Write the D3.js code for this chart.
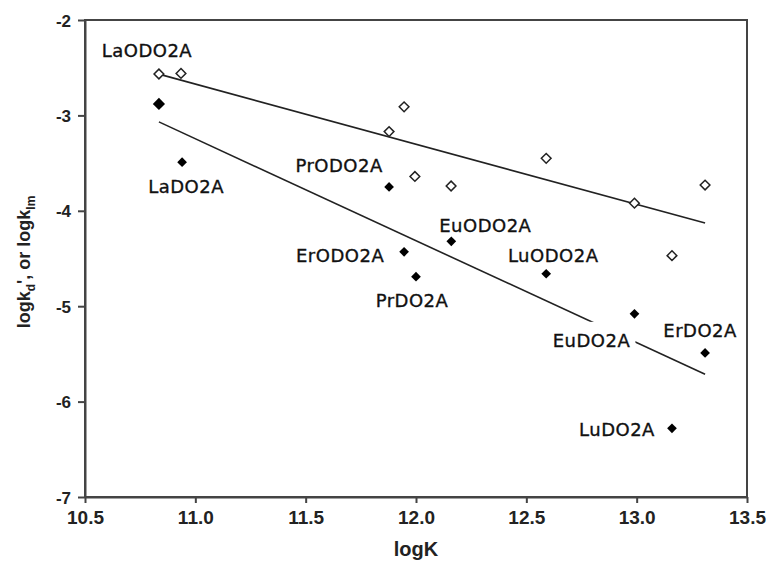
<!DOCTYPE html>
<html>
<head>
<meta charset="utf-8">
<script src="https://cdn.jsdelivr.net/npm/d3@7"></script>
<style>
  body { margin: 0; background: #fff; }
  svg { display: block; }
</style>
</head>
<body>
<svg id="chart"></svg>
<script>
// logK values and rate constants
var openX  = [10.835, 10.935, 11.946, 11.878, 11.995, 12.159, 12.59, 12.99, 13.31, 13.16];
var openY  = [-2.566, -2.56, -2.91, -3.17, -3.64, -3.74, -3.45, -3.92, -3.73, -4.47];
var fillX  = [10.835, 10.94, 11.878, 12.16, 11.946, 12.0, 12.59, 12.99, 13.31, 13.16];
var fillY  = [-2.88, -3.49, -3.75, -4.32, -4.43, -4.69, -4.66, -5.08, -5.49, -6.28];
var fillNames = ["LaODO2A", "LaDO2A", "PrODO2A", "EuODO2A", "ErODO2A", "PrDO2A", "LuODO2A", "EuDO2A", "ErDO2A", "LuDO2A"];
var xTicks = [10.5, 11.0, 11.5, 12.0, 12.5, 13.0, 13.5];
var yTicks = [-2, -3, -4, -5, -6, -7];

// label placement (pixels from the point: centre x, baseline y)
var labelOffsets = [[-12, -47], [4, 31], [-50, -15], [34, -9], [-64, 10], [-4, 30], [7, -12], [-43, 33], [-5, -16], [-55, 8]];

var width = 766, height = 562;
var margin = {left: 85, top: 20, right: 19, bottom: 65};
var w = width - margin.left - margin.right,
    h = height - margin.top - margin.bottom;

var svg = d3.select("#chart").attr("width", width).attr("height", height);
var g = svg.append("g").attr("transform", "translate(" + margin.left + "," + margin.top + ")");

var x = d3.scaleLinear().domain([10.5, 13.5]).range([0, w]);
var y = d3.scaleLinear().domain([-7, -2]).range([h, 0]);

// least squares line through a series
function fit(xs, ys){
    var mx = d3.mean(xs), my = d3.mean(ys);
    var sxy = 0, sxx = 0;
    xs.forEach(function(v, i){
        sxy += (v - mx) * (ys[i] - my);
        sxx += (v - mx) * (v - mx);
    });
    var b = sxy / sxx, a = my - b * mx;
    var x0 = d3.min(xs), x1 = d3.max(xs);
    return [[x0, a + b * x0], [x1, a + b * x1]];
}

var line = d3.line().x(function(d){ return x(d[0]); }).y(function(d){ return y(d[1]); });

[fit(openX, openY), fit(fillX, fillY)].forEach(function(seg){
    g.append("path")
        .attr("d", line(seg))
        .attr("fill", "none")
        .attr("stroke", "#222")
        .attr("stroke-width", 1.6);
});

// frame
g.append("rect")
    .attr("width", w).attr("height", h)
    .attr("fill", "none")
    .attr("stroke", "#444")
    .attr("stroke-width", 2);

// axes
var xAxis = g.append("g")
    .attr("transform", "translate(0," + h + ")")
    .call(d3.axisBottom(x).tickValues(xTicks).tickFormat(d3.format(".1f")).tickSize(6).tickSizeOuter(0));
var yAxis = g.append("g")
    .call(d3.axisLeft(y).tickValues(yTicks).tickFormat(function(d){ return String(d); }).tickSize(7).tickSizeOuter(0));

[xAxis, yAxis].forEach(function(ax){
    ax.select(".domain").attr("stroke", "#444").attr("stroke-width", 2);
    ax.selectAll(".tick line").attr("stroke", "#444").attr("stroke-width", 2);
    ax.selectAll(".tick text")
        .attr("fill", "#222")
        .style("font-family", "'Liberation Sans', Arial, sans-serif")
        .style("font-weight", "bold");
});
xAxis.selectAll(".tick text").style("font-size", "19px").attr("dy", "0.95em").attr("y", 9);
yAxis.selectAll(".tick text").style("font-size", "17px").attr("x", -14).attr("dy", "0.36em");

// axis titles
svg.append("text")
    .attr("x", 416).attr("y", 556)
    .attr("text-anchor", "middle")
    .style("font-family", "'Liberation Sans', Arial, sans-serif")
    .style("font-weight", "bold")
    .style("font-size", "20px")
    .attr("fill", "#222")
    .text("logK");

var yt = svg.append("text")
    .attr("transform", "translate(30,262) rotate(-90)")
    .attr("text-anchor", "middle")
    .style("font-family", "'Liberation Sans', Arial, sans-serif")
    .style("font-weight", "bold")
    .style("font-size", "18px")
    .attr("fill", "#222");
yt.append("tspan").text("logk");
yt.append("tspan").attr("dy", 5).style("font-size", "12px").text("d");
yt.append("tspan").attr("dy", -5).text("', or logk");
yt.append("tspan").attr("dy", 5).style("font-size", "12px").text("lm");

// labels for the filled series
var labels = g.selectAll(".lbl")
    .data(fillNames)
    .enter().append("g")
    .attr("class", "lbl")
    .attr("transform", function(d, i){
        return "translate(" + (x(fillX[i]) + labelOffsets[i][0]) + "," + (y(fillY[i]) + labelOffsets[i][1]) + ")";
    });
labels.append("rect").attr("fill", "#fff");
labels.append("text")
    .attr("text-anchor", "middle")
    .style("font-family", "'DejaVu Sans', Verdana, sans-serif")
    .style("font-size", "18px")
    .style("letter-spacing", "0.5px")
    .attr("fill", "#111")
    .attr("stroke", "#111")
    .attr("stroke-width", 0.35)
    .text(function(d){ return d; });
labels.each(function(){
    var t = d3.select(this).select("text").node().getBBox();
    d3.select(this).select("rect")
        .attr("x", t.x - 3).attr("y", t.y - 8)
        .attr("width", t.width + 8).attr("height", t.height + 8);
});

// markers
var diamond = d3.symbol().type(d3.symbolDiamond2);

g.selectAll(".open")
    .data(openX)
    .enter().append("path")
    .attr("class", "open")
    .attr("transform", function(d, i){ return "translate(" + x(d) + "," + y(openY[i]) + ")"; })
    .attr("d", diamond.size(60)())
    .attr("fill", "#fff")
    .attr("stroke", "#222")
    .attr("stroke-width", 1.5);

g.selectAll(".filled")
    .data(fillX)
    .enter().append("path")
    .attr("class", "filled")
    .attr("transform", function(d, i){ return "translate(" + x(d) + "," + y(fillY[i]) + ")"; })
    .attr("d", function(d, i){ return diamond.size(i == 0 ? 95 : 60)(); })
    .attr("fill", "#000");
</script>
</body>
</html>
